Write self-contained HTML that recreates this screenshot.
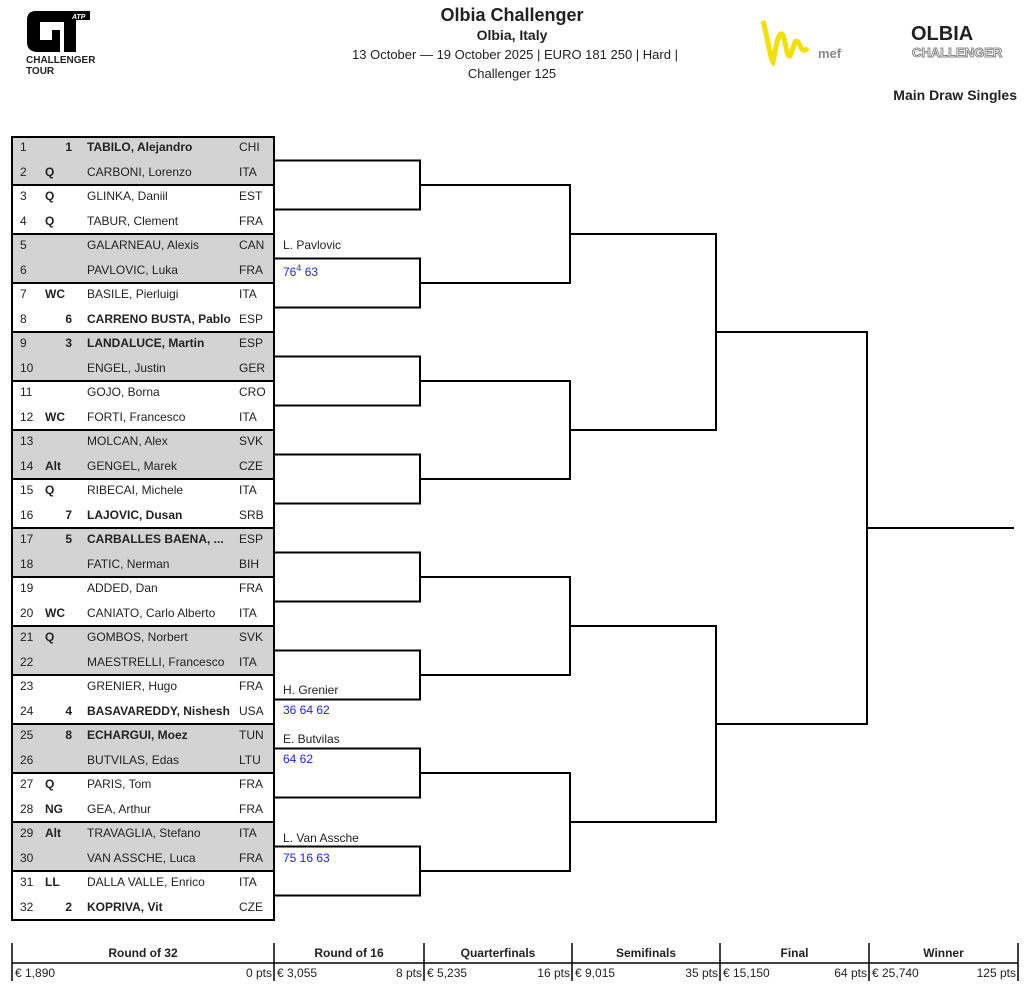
<!DOCTYPE html>
<html><head><meta charset="utf-8">
<style>
body{margin:0;width:1024px;height:986px;position:relative;background:#fff;font-family:"Liberation Sans",sans-serif;color:#222;overflow:hidden}
.a{position:absolute;white-space:nowrap}
.r{position:absolute;left:12px;width:261px;height:24.5px;font-size:12px;line-height:22px}
.r span{position:absolute}
.n{left:8px}.e{left:33px;font-weight:bold}.s{left:50px;width:10px;text-align:right;font-weight:bold}.nm{left:75px}.c{left:227px}
.b{font-weight:bold}
.g{background:#d3d3d3}
.lab{position:absolute;font-size:12px;left:283px}
.sc{color:#2222ee}
</style></head><body>
<!-- logo -->
<svg class="a" style="left:26px;top:10px" width="72" height="44">
<path d="M1 10 Q1 1 10 1 H64 V10 H50 V42 H38 V12 H14 V30 H26 V20 H34 V42 H12 Q1 42 1 32 Z" fill="#000"/>
<text x="46" y="9" font-size="7" font-style="italic" font-weight="bold" fill="#fff" font-family="Liberation Sans">ATP</text>
</svg>
<div class="a b" style="left:26px;top:55px;font-size:10px;line-height:11px">CHALLENGER<br>TOUR</div>
<div class="a b" style="left:0;width:1024px;text-align:center;top:5px;font-size:18px">Olbia Challenger</div>
<div class="a b" style="left:0;width:1024px;text-align:center;top:27px;font-size:14px">Olbia, Italy</div>
<div class="a" style="left:0;width:1030px;text-align:center;top:47px;font-size:13px">13 October — 19 October 2025 | EURO 181 250 | Hard |</div>
<div class="a" style="left:0;width:1024px;text-align:center;top:66px;font-size:13px">Challenger 125</div>
<svg class="a" style="left:760px;top:18px" width="90" height="48">
<path d="M3 3 C8 20 10 40 13 44 C16 30 18 14 22 16 C26 20 26 40 30 38 C34 30 34 20 38 24 C42 30 42 36 48 30" stroke="#f2e000" stroke-width="5" fill="none"/>
<text x="58" y="40" font-size="13" font-weight="bold" fill="#888" font-family="Liberation Sans">mef</text>
</svg>
<div class="a b" style="left:911px;top:23px;font-size:20px;letter-spacing:0px">OLBIA</div>
<div class="a b" style="left:912px;top:45px;font-size:13px;color:#fff;-webkit-text-stroke:1px #888">CHALLENGER</div>
<div class="a b" style="right:7px;top:87px;font-size:14px">Main Draw Singles</div>

<!-- draw rows -->
<div class="r g" style="top:136px"><span class="n">1</span><span class="s">1</span><span class="nm b">TABILO, Alejandro</span><span class="c">CHI</span></div>
<div class="r g" style="top:160.5px"><span class="n">2</span><span class="e">Q</span><span class="nm">CARBONI, Lorenzo</span><span class="c">ITA</span></div>
<div class="r" style="top:185px"><span class="n">3</span><span class="e">Q</span><span class="nm">GLINKA, Daniil</span><span class="c">EST</span></div>
<div class="r" style="top:209.5px"><span class="n">4</span><span class="e">Q</span><span class="nm">TABUR, Clement</span><span class="c">FRA</span></div>
<div class="r g" style="top:234px"><span class="n">5</span><span class="nm">GALARNEAU, Alexis</span><span class="c">CAN</span></div>
<div class="r g" style="top:258.5px"><span class="n">6</span><span class="nm">PAVLOVIC, Luka</span><span class="c">FRA</span></div>
<div class="r" style="top:283px"><span class="n">7</span><span class="e">WC</span><span class="nm">BASILE, Pierluigi</span><span class="c">ITA</span></div>
<div class="r" style="top:307.5px"><span class="n">8</span><span class="s">6</span><span class="nm b">CARRENO BUSTA, Pablo</span><span class="c">ESP</span></div>
<div class="r g" style="top:332px"><span class="n">9</span><span class="s">3</span><span class="nm b">LANDALUCE, Martin</span><span class="c">ESP</span></div>
<div class="r g" style="top:356.5px"><span class="n">10</span><span class="nm">ENGEL, Justin</span><span class="c">GER</span></div>
<div class="r" style="top:381px"><span class="n">11</span><span class="nm">GOJO, Borna</span><span class="c">CRO</span></div>
<div class="r" style="top:405.5px"><span class="n">12</span><span class="e">WC</span><span class="nm">FORTI, Francesco</span><span class="c">ITA</span></div>
<div class="r g" style="top:430px"><span class="n">13</span><span class="nm">MOLCAN, Alex</span><span class="c">SVK</span></div>
<div class="r g" style="top:454.5px"><span class="n">14</span><span class="e">Alt</span><span class="nm">GENGEL, Marek</span><span class="c">CZE</span></div>
<div class="r" style="top:479px"><span class="n">15</span><span class="e">Q</span><span class="nm">RIBECAI, Michele</span><span class="c">ITA</span></div>
<div class="r" style="top:503.5px"><span class="n">16</span><span class="s">7</span><span class="nm b">LAJOVIC, Dusan</span><span class="c">SRB</span></div>
<div class="r g" style="top:528px"><span class="n">17</span><span class="s">5</span><span class="nm b">CARBALLES BAENA, ...</span><span class="c">ESP</span></div>
<div class="r g" style="top:552.5px"><span class="n">18</span><span class="nm">FATIC, Nerman</span><span class="c">BIH</span></div>
<div class="r" style="top:577px"><span class="n">19</span><span class="nm">ADDED, Dan</span><span class="c">FRA</span></div>
<div class="r" style="top:601.5px"><span class="n">20</span><span class="e">WC</span><span class="nm">CANIATO, Carlo Alberto</span><span class="c">ITA</span></div>
<div class="r g" style="top:626px"><span class="n">21</span><span class="e">Q</span><span class="nm">GOMBOS, Norbert</span><span class="c">SVK</span></div>
<div class="r g" style="top:650.5px"><span class="n">22</span><span class="nm">MAESTRELLI, Francesco</span><span class="c">ITA</span></div>
<div class="r" style="top:675px"><span class="n">23</span><span class="nm">GRENIER, Hugo</span><span class="c">FRA</span></div>
<div class="r" style="top:699.5px"><span class="n">24</span><span class="s">4</span><span class="nm b">BASAVAREDDY, Nishesh</span><span class="c">USA</span></div>
<div class="r g" style="top:724px"><span class="n">25</span><span class="s">8</span><span class="nm b">ECHARGUI, Moez</span><span class="c">TUN</span></div>
<div class="r g" style="top:748.5px"><span class="n">26</span><span class="nm">BUTVILAS, Edas</span><span class="c">LTU</span></div>
<div class="r" style="top:773px"><span class="n">27</span><span class="e">Q</span><span class="nm">PARIS, Tom</span><span class="c">FRA</span></div>
<div class="r" style="top:797.5px"><span class="n">28</span><span class="e">NG</span><span class="nm">GEA, Arthur</span><span class="c">FRA</span></div>
<div class="r g" style="top:822px"><span class="n">29</span><span class="e">Alt</span><span class="nm">TRAVAGLIA, Stefano</span><span class="c">ITA</span></div>
<div class="r g" style="top:846.5px"><span class="n">30</span><span class="nm">VAN ASSCHE, Luca</span><span class="c">FRA</span></div>
<div class="r" style="top:871px"><span class="n">31</span><span class="e">LL</span><span class="nm">DALLA VALLE, Enrico</span><span class="c">ITA</span></div>
<div class="r" style="top:895.5px"><span class="n">32</span><span class="s">2</span><span class="nm b">KOPRIVA, Vit</span><span class="c">CZE</span></div>

<svg class="a" style="left:0;top:0" width="1024" height="986">
<g stroke="#000" stroke-width="2" fill="none">
<rect x="12" y="137" width="262" height="783"/>
<path d="M12 185H274M12 234H274M12 283H274M12 332H274M12 381H274M12 430H274M12 479H274M12 528H274M12 577H274M12 626H274M12 675H274M12 724H274M12 773H274M12 822H274M12 871H274"/>
<path d="M274 160.5H420V209.5H274M274 258.5H420V307.5H274M274 356.5H420V405.5H274M274 454.5H420V503.5H274M274 552.5H420V601.5H274M274 650.5H420V699.5H274M274 748.5H420V797.5H274M274 846.5H420V895.5H274"/>
<path d="M420 185H570V283H420M420 381H570V479H420M420 577H570V675H420M420 773H570V871H420"/>
<path d="M570 234H716V430H570M570 626H716V822H570"/>
<path d="M716 332H867V724H716"/>
<path d="M867 528H1014"/>
</g>
<g stroke="#000" stroke-width="1.5">
<path d="M12 943V981M274 943V981M424 943V981M572 943V981M720 943V981M869 943V981M1018 943V981M12 963H1018"/>
</g>
</svg>

<div class="lab" style="top:238px">L. Pavlovic</div>
<div class="lab sc" style="top:263px">76<sup style="font-size:9px">4</sup> 63</div>
<div class="lab" style="top:683px">H. Grenier</div>
<div class="lab sc" style="top:703px">36 64 62</div>
<div class="lab" style="top:732px">E. Butvilas</div>
<div class="lab sc" style="top:752px">64 62</div>
<div class="lab" style="top:831px">L. Van Assche</div>
<div class="lab sc" style="top:851px">75 16 63</div>

<div class="a b" style="font-size:12px;top:946px;left:12px;width:262px;text-align:center">Round of 32</div>
<div class="a b" style="font-size:12px;top:946px;left:274px;width:150px;text-align:center">Round of 16</div>
<div class="a b" style="font-size:12px;top:946px;left:424px;width:148px;text-align:center">Quarterfinals</div>
<div class="a b" style="font-size:12px;top:946px;left:572px;width:148px;text-align:center">Semifinals</div>
<div class="a b" style="font-size:12px;top:946px;left:720px;width:149px;text-align:center">Final</div>
<div class="a b" style="font-size:12px;top:946px;left:869px;width:149px;text-align:center">Winner</div>
<div class="a" style="font-size:12px;top:966px;left:15px">€ 1,890</div><div class="a" style="font-size:12px;top:966px;right:752px">0 pts</div>
<div class="a" style="font-size:12px;top:966px;left:277px">€ 3,055</div><div class="a" style="font-size:12px;top:966px;right:602px">8 pts</div>
<div class="a" style="font-size:12px;top:966px;left:427px">€ 5,235</div><div class="a" style="font-size:12px;top:966px;right:454px">16 pts</div>
<div class="a" style="font-size:12px;top:966px;left:575px">€ 9,015</div><div class="a" style="font-size:12px;top:966px;right:306px">35 pts</div>
<div class="a" style="font-size:12px;top:966px;left:723px">€ 15,150</div><div class="a" style="font-size:12px;top:966px;right:157px">64 pts</div>
<div class="a" style="font-size:12px;top:966px;left:872px">€ 25,740</div><div class="a" style="font-size:12px;top:966px;right:8px">125 pts</div>
</body></html>
